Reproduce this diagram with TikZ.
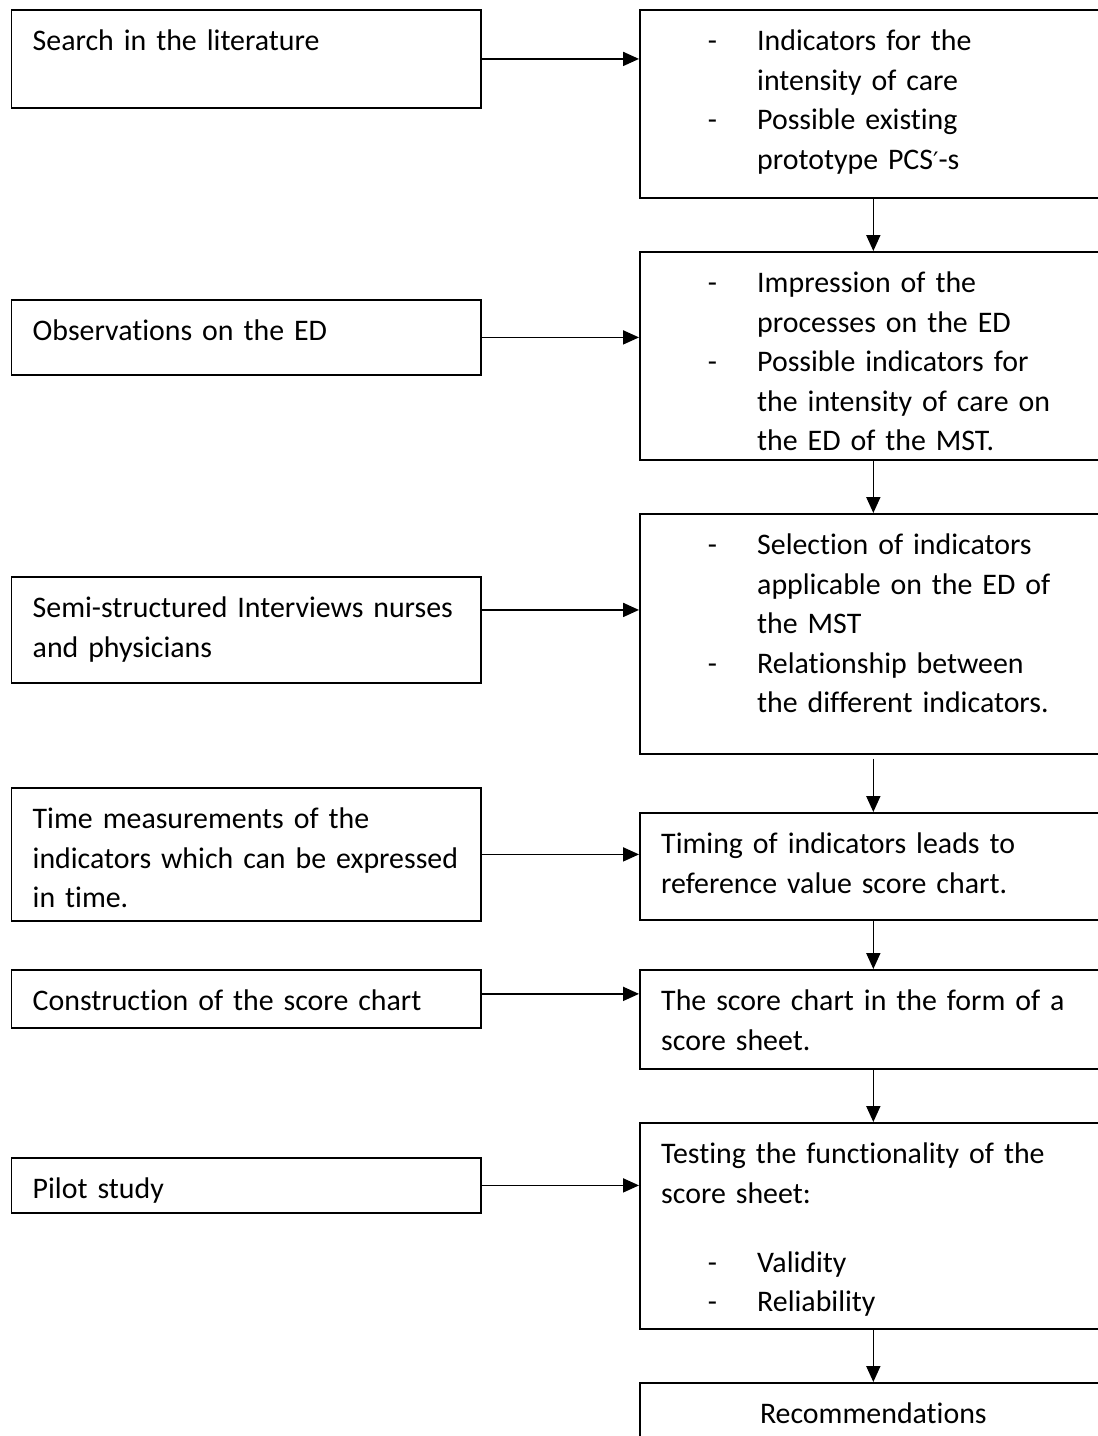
\documentclass[tikz,border=0pt]{standalone}
\usepackage{fontspec}
\setmainfont{Carlito}[Ligatures=CommonOff]
\newfontfamily\primefont{DejaVu Sans}
\usetikzlibrary{arrows.meta,positioning}
\hyphenpenalty=10000

\newcommand{\dashitem}[1]{\hangindent=36pt\hangafter=1\noindent\makebox[36pt][l]{\hspace{17.5pt}-}#1\par}

\begin{document}
\begin{tikzpicture}[x=0.375pt, y=-0.375pt, >={Triangle[length=6pt,width=5.3pt]},
    box/.style={draw, line width=0.65pt, anchor=north west, align=left,
      inner xsep=8pt, inner ysep=0pt, text height=15.4pt,
      font=\fontsize{11.2pt}{14.8pt}\selectfont},
    lbox/.style={box, text width=160pt},
    rbox/.style={box, text width=159.1pt},
    link/.style={->, line width=0.55pt}]

  \path[use as bounding box, clip] (0,0) rectangle (1098,1436);

  % left column
  \node[lbox, text depth=21.4pt] (l1) at (10.5,9) {Search in the literature};
  \node[lbox, text depth=12.75pt] (l2) at (10.5,299) {Observations on the ED};
  \node[lbox, text depth=24.4pt] (l3) at (10.5,576) {Semi-structured Interviews nurses\\ and physicians};
  \node[lbox, text depth=34.5pt] (l4) at (10.5,787) {Time measurements of the\\ indicators which can be expressed\\ in time.};
  \node[lbox, text depth=6.4pt] (l5) at (10.5,969) {Construction of the score chart};
  \node[lbox, text depth=5.25pt] (l6) at (10.5,1157) {Pilot study};

  % right column
  \node[rbox, text depth=55.1pt] (r1) at (639,9) {\dashitem{Indicators for the\newline intensity of care}\dashitem{Possible existing\newline prototype PCS{\primefont\small ′}-s}};
  \node[rbox, text depth=62.6pt] (r2) at (639,251) {\dashitem{Impression of the\newline processes on the ED}\dashitem{Possible indicators for\newline the intensity of care on\newline the ED of the MST.}};
  \node[rbox, text depth=74.6pt] (r3) at (639,513) {\dashitem{Selection of indicators\newline applicable on the ED of\newline the MST}\dashitem{Relationship between\newline the different indicators.}};
  \node[rbox, text depth=24.75pt] (r4) at (639,812) {Timing of indicators leads to\\ reference value score chart.};
  \node[rbox, text depth=21.75pt] (r5) at (639,969) {The score chart in the form of a\\ score sheet.};
  \node[rbox, text depth=61.9pt] (r6) at (639,1122) {Testing the functionality of the\\ score sheet:\par\vspace{11pt}\dashitem{Validity}\dashitem{Reliability}};
  \node[rbox, align=center, text depth=22pt] (r7) at (639,1382) {Recommendations};

  % left to right
  \coordinate (a3) at ([yshift=7.5pt]l3.east);
  \coordinate (a5) at ([yshift=1.9pt]l5.east);
  \draw[link] (l1.east) -- (l1.east -| r1.west);
  \draw[link] (l2.east) -- (l2.east -| r2.west);
  \draw[link] (a3) -- (a3 -| r3.west);
  \draw[link] (l4.east) -- (l4.east -| r4.west);
  \draw[link] (a5) -- (a5 -| r5.west);
  \draw[link] (l6.east) -- (l6.east -| r6.west);

  % down the right column
  \draw[link] (r1.south) -- (r2.north);
  \draw[link] (r2.south) -- (r3.north);
  \draw[link, shorten <=1.5pt] (r3.south) -- (r4.north);
  \draw[link] (r4.south) -- (r5.north);
  \draw[link] (r5.south) -- (r6.north);
  \draw[link] (r6.south) -- (r7.north);
\end{tikzpicture}
\end{document}
